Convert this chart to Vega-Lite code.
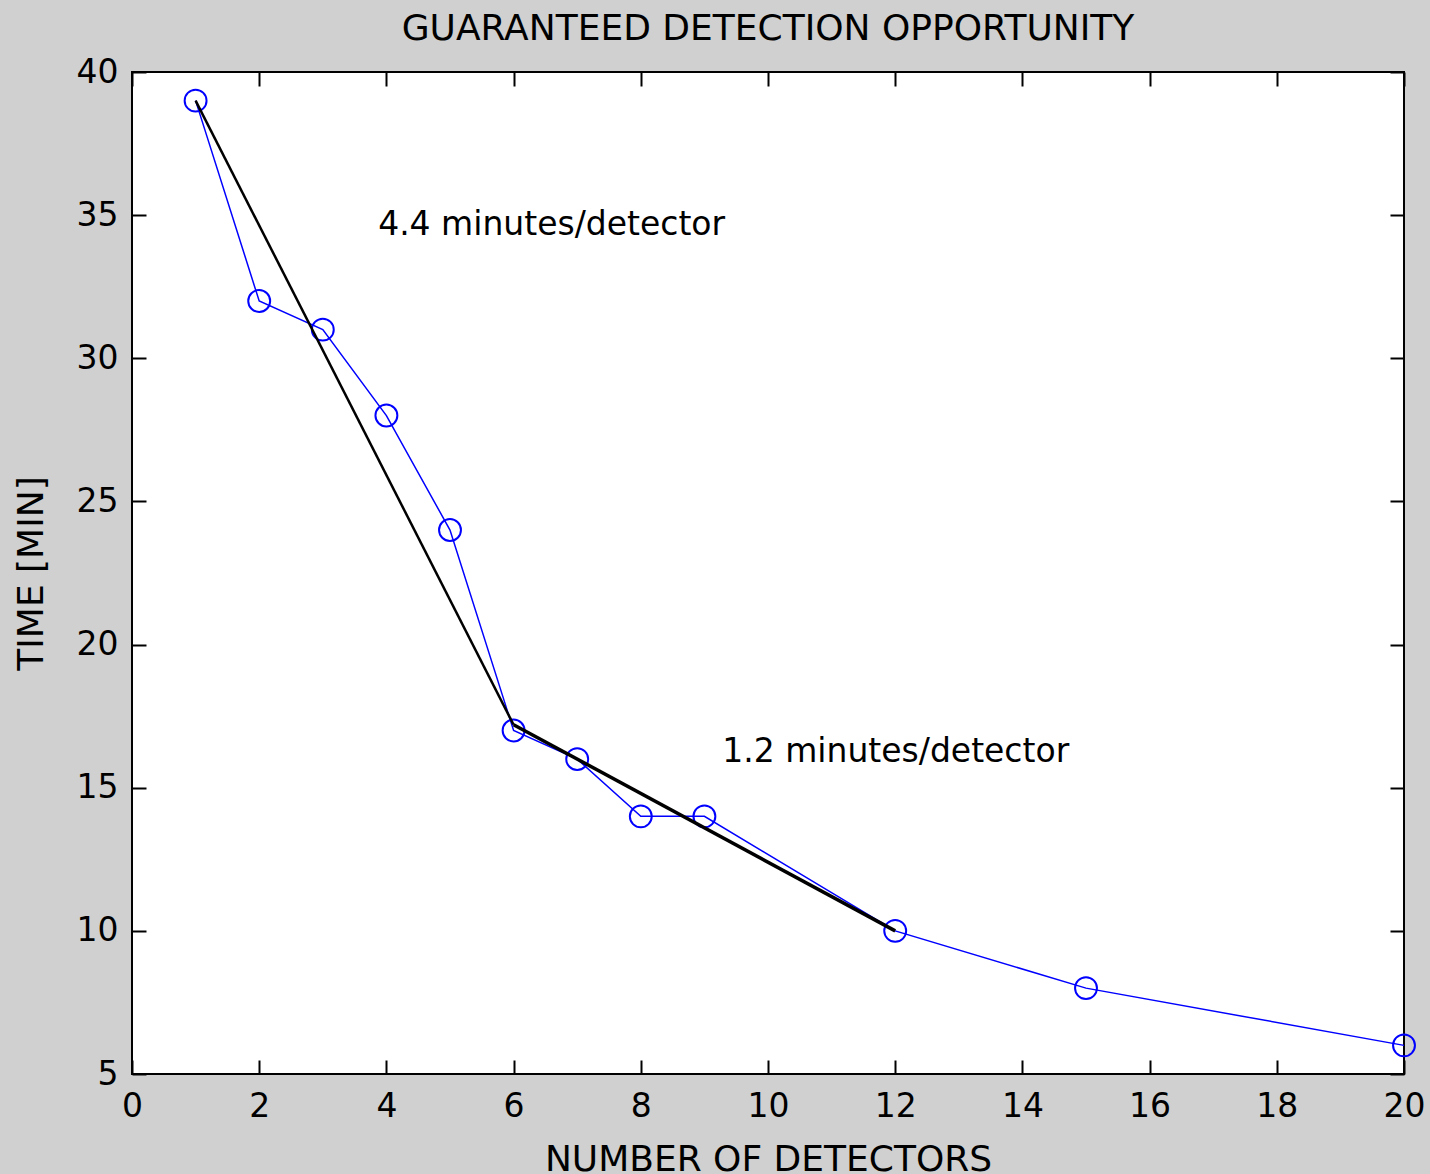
{
  "$schema": "https://vega.github.io/schema/vega-lite/v6.json",
  "autosize": "none",
  "width": 1272,
  "height": 1002,
  "padding": {"left": 132, "top": 72, "right": 26, "bottom": 100},
  "background": "#d0d0d0",
  "title": {"text": "GUARANTEED DETECTION OPPORTUNITY", "font": "DejaVu Sans", "fontSize": 36, "fontWeight": "normal", "color": "#000000", "offset": 8, "anchor": "middle"},
  "config": {
    "view": {"fill": "#ffffff", "stroke": "#000000", "strokeWidth": 2},
    "axis": {"grid": false, "domain": false, "tickColor": "#000000", "tickSize": -14, "tickWidth": 2, "labelFont": "DejaVu Sans", "labelFontSize": 33, "labelColor": "#000000", "titleFont": "DejaVu Sans", "titleFontSize": 36, "titleFontWeight": "normal", "titleColor": "#000000", "labelFlush": false, "labelOverlap": false}
  },
  "datasets": {
    "obs": [
      {"n": 1, "t": 39}, {"n": 2, "t": 32}, {"n": 3, "t": 31}, {"n": 4, "t": 28},
      {"n": 5, "t": 24}, {"n": 6, "t": 17}, {"n": 7, "t": 16}, {"n": 8, "t": 14},
      {"n": 9, "t": 14}, {"n": 12, "t": 10}, {"n": 15, "t": 8}, {"n": 20, "t": 6}
    ],
    "fitA": [{"n": 1, "t": 39}, {"n": 6, "t": 17.2}],
    "fitB": [{"n": 6, "t": 17.2}, {"n": 12, "t": 10}],
    "notes": [
      {"n": 3.87, "t": 34.65, "label": "4.4 minutes/detector"},
      {"n": 9.28, "t": 16.25, "label": "1.2 minutes/detector"}
    ]
  },
  "layer": [
    {
      "data": {"name": "obs"},
      "mark": {"type": "line", "color": "#0000ff", "strokeWidth": 1.5, "point": {"filled": false, "shape": "circle", "size": 480, "stroke": "#0000ff", "strokeWidth": 2, "fill": null}},
      "encoding": {
        "x": {"field": "n", "type": "quantitative", "scale": {"domain": [0, 20], "nice": false, "zero": false}, "axis": {"orient": "bottom", "values": [0,2,4,6,8,10,12,14,16,18,20], "title": "NUMBER OF DETECTORS", "labelPadding": 30, "titlePadding": 19}},
        "y": {"field": "t", "type": "quantitative", "scale": {"domain": [5, 40], "nice": false, "zero": false}, "axis": {"orient": "left", "values": [5,10,15,20,25,30,35,40], "title": "TIME [MIN]", "labelPadding": 28, "titlePadding": 26}}
      }
    },
    {
      "data": {"name": "fitA"},
      "mark": {"type": "line", "color": "#000000", "strokeWidth": 2.5},
      "encoding": {
        "x": {"field": "n", "type": "quantitative", "axis": {"orient": "top", "values": [0,2,4,6,8,10,12,14,16,18,20], "labels": false, "title": null}},
        "y": {"field": "t", "type": "quantitative", "axis": {"orient": "right", "values": [5,10,15,20,25,30,35,40], "labels": false, "title": null}}
      }
    },
    {
      "data": {"name": "fitB"},
      "mark": {"type": "line", "color": "#000000", "strokeWidth": 3.5},
      "encoding": {
        "x": {"field": "n", "type": "quantitative", "axis": null},
        "y": {"field": "t", "type": "quantitative", "axis": null}
      }
    },
    {
      "data": {"name": "notes"},
      "mark": {"type": "text", "font": "DejaVu Sans", "fontSize": 33, "align": "left", "baseline": "middle", "color": "#000000"},
      "encoding": {
        "x": {"field": "n", "type": "quantitative", "axis": null},
        "y": {"field": "t", "type": "quantitative", "axis": null},
        "text": {"field": "label"}
      }
    }
  ],
  "resolve": {"axis": {"x": "independent", "y": "independent"}}
}
